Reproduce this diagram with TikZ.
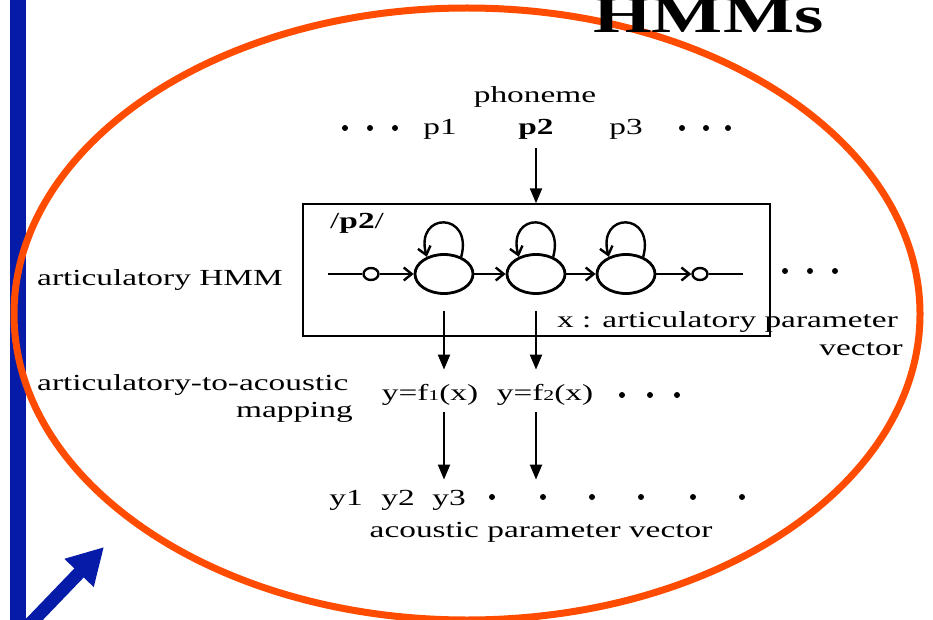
\documentclass[tikz,border=0pt]{standalone}
\usepackage{fontspec}
\setmainfont{Liberation Serif}[FakeStretch=1.45]
\usetikzlibrary{arrows.meta,shapes.geometric}

\definecolor{barblue}{RGB}{6,28,168}
\definecolor{ringorange}{RGB}{255,76,0}

\tikzset{
lbl/.style={inner sep=0pt,font=\fontsize{23}{27}\selectfont},
dot/.style={circle,fill=black,inner sep=0pt,minimum size=6pt},
state/.style={ellipse,draw,line width=2.8pt,minimum width=58pt,minimum height=39pt,inner sep=0pt},
term/.style={ellipse,draw,line width=2.4pt,minimum width=15pt,minimum height=12pt,inner sep=0pt},
hop/.style={line width=2.4pt,-{Straight Barb[length=8pt,width=13pt]}},
down/.style={line width=2.2pt,-{Triangle[length=15pt,width=12pt]}}
}

\begin{document}
\begin{tikzpicture}[x=1pt,y=-1pt]

\useasboundingbox (0,0) rectangle (933,620);

\draw[barblue,line width=16pt] (18,0)--(18,620);
\draw[barblue,line width=13pt,-{Triangle[length=36pt,width=38pt]}] (28,626)--(104,547);

\draw[ringorange,line width=7pt] (467,314) ellipse [x radius=453,y radius=306];

\node[anchor=base west,inner sep=0pt,font=\fontsize{52}{52}\selectfont\bfseries] (title) at (593,33) {HMMs};

\node[lbl,anchor=base] (phon) at (535,103) {phoneme};
\foreach \x [count=\i] in {345,370,395} \node[dot] (pl\i) at (\x,128) {};
\node[lbl,anchor=base] (p1) at (440,135) {p1};
\node[lbl,anchor=base] (p2) at (536,135) {\textbf{p2}};
\node[lbl,anchor=base] (p3) at (626,135) {p3};
\foreach \x [count=\i] in {682,706,728} \node[dot] (pr\i) at (\x,128) {};

\node[draw,line width=1.4pt,minimum width=467pt,minimum height=132pt,inner sep=0pt] (box) at (536.5,270) {};
\node[lbl,anchor=base west] (tag) at (330,229) {/\textbf{p2}/};

\draw[down,shorten <=8pt] (p2.south) -- (p2.south |- box.north);

\coordinate (in) at (328,274);
\node[term] (s0) at (371,274) {};
\node[state] (s1) at (444,274) {};
\node[state] (s2) at (536,274) {};
\node[state] (s3) at (626,274) {};
\node[term] (s4) at (700,274) {};
\coordinate (out) at (743,274);

\draw[line width=2.4pt] (in) -- (s0) (s4) -- (out);
\draw[hop] (s0) -- (s1);
\draw[hop] (s1) -- (s2);
\draw[hop] (s2) -- (s3);
\draw[hop] (s3) -- (s4);
\foreach \s in {s1,s2,s3}
\draw[hop] (\s.45) to[out=75,in=105,looseness=3.5] (\s.135);

\foreach \x [count=\i] in {785,810,835} \node[dot] (hd\i) at (\x,271) {};

\node[lbl,anchor=base west] (ahmm) at (37,285) {articulatory HMM};
\node[lbl,anchor=base east] (xvec) at (898,327) {x : articulatory parameter};
\node[lbl,anchor=base east] (xvec2) at (903,355) {vector};

\node[lbl,anchor=base west] (map1) at (37,390) {articulatory-to-acoustic};
\node[lbl,anchor=base east] (map2) at (353,417) {mapping};

\node[lbl,anchor=base] (f1) at (430,400) {y=f{\fontsize{15}{15}\selectfont 1}(x)};
\node[lbl,anchor=base] (f2) at (545,400) {y=f{\fontsize{15}{15}\selectfont 2}(x)};
\foreach \x [count=\i] in {622,650,677} \node[dot] (fd\i) at (\x,395) {};

\draw[down,shorten >=14pt] ([yshift=-16pt]s1.south) -- (s1 |- f1.north);
\draw[down,shorten >=14pt] ([yshift=-16pt]s2.south) -- (s2 |- f2.north);

\node[lbl,anchor=base] (y1) at (346,505) {y1};
\node[lbl,anchor=base] (y2) at (398,505) {y2};
\node[lbl,anchor=base] (y3) at (449,505) {y3};
\foreach \x [count=\i] in {492,543,592,641,693,742} \node[dot] (yd\i) at (\x,497) {};
\node[lbl,anchor=base] (apv) at (541,537) {acoustic parameter vector};

\draw[down,shorten <=7pt,shorten >=10pt] (s1 |- f1.south) -- (s1 |- y3.north);
\draw[down,shorten <=7pt,shorten >=10pt] (s2 |- f2.south) -- (s2 |- y3.north);

\end{tikzpicture}
\end{document}
